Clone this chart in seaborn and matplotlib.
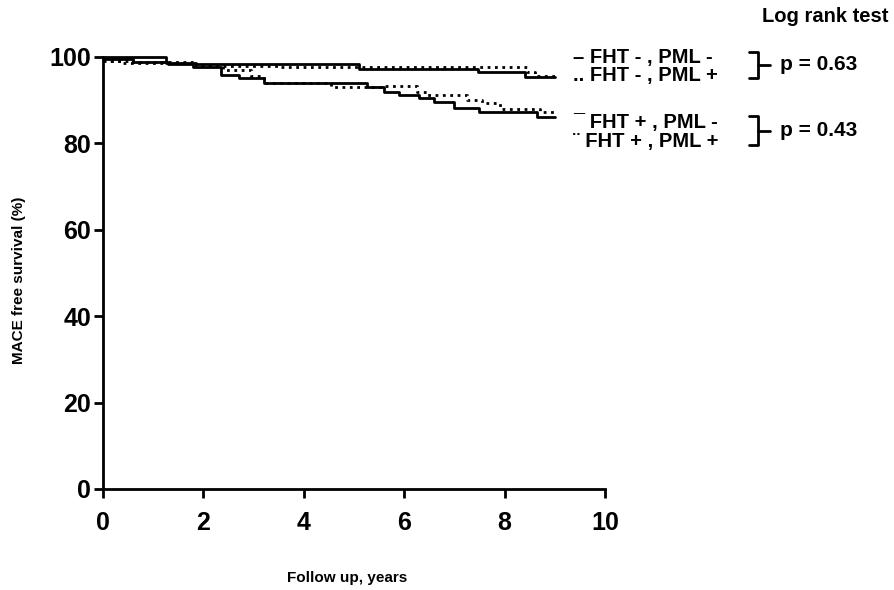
import numpy as np
import pandas as pd
import seaborn as sns
import matplotlib
matplotlib.use('Agg')
import matplotlib.pyplot as plt
from matplotlib.lines import Line2D

# Kaplan-Meier step curves (time in years, survival in %)
t_fht_neg_pml_neg = [0, 1.25, 1.85, 5.1, 7.47, 8.4, 9.0]
s_fht_neg_pml_neg = [100, 98.7, 98.3, 97.2, 96.6, 95.4, 95.4]

t_fht_neg_pml_pos = [0, 0.5, 1.85, 3.5, 8.45, 8.6, 9.0]
s_fht_neg_pml_pos = [99.0, 98.8, 98.0, 97.8, 96.5, 95.6, 95.6]

t_fht_pos_pml_neg = [0, 0.6, 1.3, 1.8, 2.35, 2.7, 3.2, 5.25, 5.6, 5.9, 6.3, 6.6, 7.0, 7.5, 8.65, 9.0]
s_fht_pos_pml_neg = [99.5, 98.8, 98.3, 97.8, 95.8, 95.1, 94.0, 93.1, 92.0, 91.2, 90.4, 89.5, 88.3, 87.2, 86.0, 86.0]

t_fht_pos_pml_pos = [0, 0.4, 1.85, 2.4, 2.95, 3.2, 4.55, 5.55, 6.25, 6.45, 7.25, 7.55, 7.9, 8.7, 9.0]
s_fht_pos_pml_pos = [99.0, 98.7, 97.9, 96.9, 95.6, 94.0, 93.1, 93.4, 92.0, 91.2, 90.0, 89.3, 87.9, 87.3, 87.3]

labels = ['– FHT - , PML -', '.. FHT - , PML +', '¯ FHT + , PML -', '¨ FHT + , PML +']
p_values = ['p = 0.63', 'p = 0.43']

sns.set_style('ticks')
plt.rcParams['font.family'] = ['Liberation Sans', 'DejaVu Sans']
plt.rcParams['font.weight'] = 'bold'
for key in ['text.color', 'axes.labelcolor', 'xtick.color', 'ytick.color', 'axes.edgecolor']:
    plt.rcParams[key] = 'black'

fig = plt.figure(figsize=(8.95, 5.9), dpi=100)
ax = fig.add_axes([103 / 895, 1 - 489 / 590, 502 / 895, 432 / 590])

curves = [
    (t_fht_neg_pml_neg, s_fht_neg_pml_neg, '-'),
    (t_fht_neg_pml_pos, s_fht_neg_pml_pos, ':'),
    (t_fht_pos_pml_neg, s_fht_pos_pml_neg, '-'),
    (t_fht_pos_pml_pos, s_fht_pos_pml_pos, ':'),
]
for t, s, ls in curves:
    df = pd.DataFrame({'t': t, 's': s})
    sns.lineplot(data=df, x='t', y='s', ax=ax, color='black', linestyle=ls,
                 linewidth=2, drawstyle='steps-post', clip_on=False)

ax.set_xlim(0, 10)
ax.set_ylim(0, 100)
ax.set_xticks([0, 2, 4, 6, 8, 10])
ax.set_yticks([0, 20, 40, 60, 80, 100])
ax.tick_params(axis='both', labelsize=18, width=2, length=6.5, direction='out',
               colors='black')
ax.tick_params(axis='x', pad=9)
ax.tick_params(axis='y', pad=2)
for lab in ax.get_xticklabels() + ax.get_yticklabels():
    lab.set_fontweight('bold')
for side in ['top', 'right']:
    ax.spines[side].set_visible(False)
for side in ['left', 'bottom']:
    ax.spines[side].set_linewidth(2)
    ax.spines[side].set_color('black')

ax.set_xlabel('Follow up, years', fontsize=11, fontweight='bold')
ax.xaxis.set_label_coords(0.487, -(578 - 489) / 432, transform=ax.transAxes)
ax.xaxis.label.set_va('center')
ax.set_ylabel('MACE free survival (%)', fontsize=11, fontweight='bold')
ax.yaxis.set_label_coords(-(103 - 19) / 502, (489 - 280) / 432, transform=ax.transAxes)
ax.yaxis.label.set_va('center')

# legend text and log rank brackets
fig.text(888 / 895, 1 - 17 / 590, 'Log rank test', ha='right', va='center',
         fontsize=14.5, fontweight='bold')
rows_y = [58, 76, 123, 141]
for lab, y in zip(labels, rows_y):
    fig.text(573 / 895, 1 - y / 590, lab, ha='left', va='center',
             fontsize=14.5, fontweight='bold')

def px(x, y):
    return x / 895, 1 - y / 590

for (top, bot), p in zip([(52, 78), (116, 145)], p_values):
    mid = (top + bot) / 2
    xs, ys = zip(px(749, top), px(758, top), px(758, bot), px(749, bot))
    fig.add_artist(Line2D(xs, ys, color='black', linewidth=2))
    xs, ys = zip(px(758, mid), px(770, mid))
    fig.add_artist(Line2D(xs, ys, color='black', linewidth=2))
    fig.text(780 / 895, 1 - mid / 590, p, ha='left', va='center',
             fontsize=15, fontweight='bold')

fig.savefig('out.png', dpi=100)
